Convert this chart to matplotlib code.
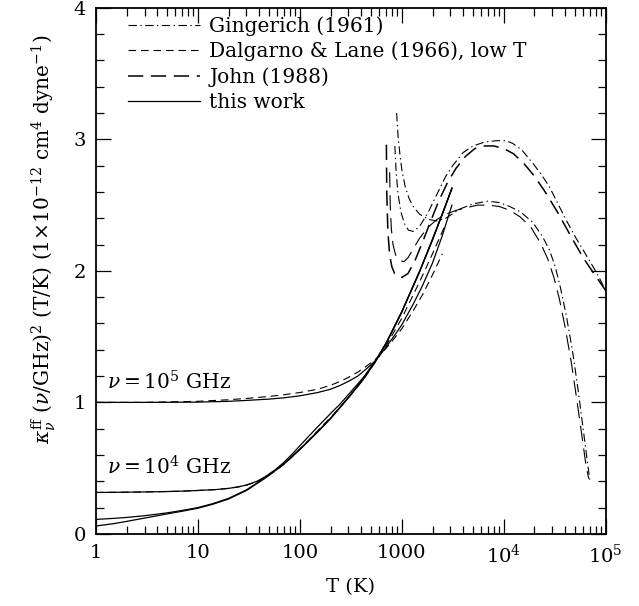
import matplotlib
matplotlib.use("Agg")
import matplotlib.pyplot as plt
from matplotlib.ticker import FixedLocator, FixedFormatter, MultipleLocator, LogLocator

# "this work" (solid), four frequencies
T_s1 = [1, 3, 10, 20, 30, 50, 70, 100, 150, 200, 250, 300, 370, 450, 556, 700, 850, 1000, 1300,
        1600, 2000, 2500, 3100]
k_s1 = [1.00, 1.00, 1.002, 1.008, 1.015, 1.025, 1.035, 1.05, 1.075, 1.10, 1.13, 1.16, 1.20, 1.255,
        1.32, 1.42, 1.51, 1.59, 1.75, 1.89, 2.06, 2.27, 2.50]
T_s2 = [1, 2, 3, 5, 7, 10, 15, 20, 25, 30, 38, 46, 58, 70, 85, 100, 125, 150, 200, 250, 300, 420,
        556, 700, 1000, 1500, 2000, 2600, 3100]
k_s2 = [0.315, 0.317, 0.319, 0.322, 0.325, 0.33, 0.337, 0.346, 0.358, 0.372, 0.40, 0.436, 0.49,
        0.545, 0.61, 0.67, 0.75, 0.815, 0.915, 0.99, 1.06, 1.19, 1.32, 1.45, 1.69, 2.00, 2.24,
        2.47, 2.63]
T_s3 = [1, 1.5, 2, 3, 4, 5, 7, 10, 14, 20, 30, 46, 70, 100, 150, 200, 300, 420, 556, 700, 1000,
        1500, 2000, 2600, 3100]
k_s3 = [0.11, 0.118, 0.125, 0.138, 0.15, 0.16, 0.178, 0.20, 0.23, 0.27, 0.335, 0.43, 0.535, 0.645,
        0.78, 0.88, 1.04, 1.18, 1.32, 1.45, 1.69, 2.00, 2.24, 2.47, 2.63]
k_s4 = [0.06, 0.078, 0.095, 0.12, 0.138, 0.152, 0.172, 0.195, 0.225, 0.265, 0.33, 0.425, 0.53,
        0.64, 0.775, 0.875, 1.035, 1.175, 1.315, 1.445, 1.685, 1.995, 2.235, 2.465, 2.625]

# Dalgarno & Lane (1966), low T (short dash)
T_d1 = [1, 3, 10, 20, 30, 50, 70, 100, 150, 200, 250, 300, 370, 450, 556, 700, 850, 1000, 1300,
        1600, 2000, 2500]
k_d1 = [1.00, 1.00, 1.008, 1.02, 1.03, 1.045, 1.058, 1.075, 1.10, 1.13, 1.16, 1.19, 1.23, 1.275,
        1.33, 1.41, 1.49, 1.56, 1.70, 1.82, 1.97, 2.13]
T_d2 = [1, 2, 3, 5, 7, 10, 15, 20, 25, 30, 38, 46, 58, 70, 85, 100, 125, 150, 200, 250, 300, 420,
        556, 700, 1000, 1500, 2000, 2600]
k_d2 = [0.315, 0.317, 0.319, 0.322, 0.325, 0.33, 0.337, 0.346, 0.357, 0.37, 0.397, 0.43, 0.48,
        0.53, 0.59, 0.645, 0.72, 0.785, 0.885, 0.965, 1.035, 1.175, 1.31, 1.43, 1.64, 1.92, 2.13,
        2.33]

# Gingerich (1961) (dash-dot)
T_g1 = [889, 920, 960, 1000, 1080, 1180, 1290, 1500, 1870, 2200, 2700, 3700, 5000, 6970, 9000,
        11400, 14500, 19200, 24000, 28000, 32000, 36000, 41000, 47000, 53000, 60000, 66000, 70000]
k_g1 = [3.20, 3.02, 2.88, 2.77, 2.64, 2.55, 2.49, 2.43, 2.39, 2.38, 2.40, 2.47, 2.51, 2.53, 2.52,
        2.49, 2.45, 2.37, 2.26, 2.16, 2.03, 1.87, 1.66, 1.40, 1.12, 0.80, 0.55, 0.40]
T_g2 = [855, 880, 920, 980, 1060, 1160, 1300, 1500, 1800, 2200, 2700, 3150, 4000, 5000, 6500,
        8500, 10500, 12200, 15000, 19200, 23000, 28000, 35000, 42000, 51000, 62000, 74000, 86000,
        100000]
k_g2 = [2.95, 2.75, 2.58, 2.45, 2.36, 2.31, 2.30, 2.34, 2.44, 2.58, 2.72, 2.80, 2.90, 2.95, 2.98,
        2.99, 2.99, 2.97, 2.92, 2.82, 2.74, 2.64, 2.49, 2.37, 2.25, 2.14, 2.04, 1.95, 1.85]

# John (1988) (long dash)
T_j1 = [706, 712, 730, 760, 800, 850, 900, 1000, 1150, 1350, 1600, 1900, 2300, 2800, 3400, 4200,
        5200, 6500, 8000, 10000, 12500, 16000, 20000, 26000, 34000, 45000, 60000, 78000, 100000]
k_j1 = [2.96, 2.60, 2.30, 2.12, 2.03, 1.98, 1.96, 1.95, 1.98, 2.08, 2.22, 2.37, 2.53, 2.67, 2.78,
        2.87, 2.93, 2.95, 2.95, 2.93, 2.89, 2.81, 2.72, 2.59, 2.44, 2.27, 2.10, 1.97, 1.85]
T_j2 = [760, 770, 790, 820, 870, 950, 1050, 1150, 1300, 1500, 1800, 2200, 2700, 3400, 4300, 5500,
        7000, 9000, 11500, 14500, 18500, 23000, 27000, 31000, 35000, 40000, 46000, 52000, 58000,
        64000, 68000]
k_j2 = [2.75, 2.50, 2.32, 2.20, 2.12, 2.08, 2.07, 2.10, 2.17, 2.25, 2.33, 2.39, 2.43, 2.46, 2.48,
        2.50, 2.50, 2.49, 2.46, 2.41, 2.33, 2.21, 2.09, 1.95, 1.79, 1.57, 1.30, 1.02, 0.76, 0.52,
        0.42]

xticks = [1, 10, 100, 1000, 1e4, 1e5]
xtick_labels = ["1", "10", "100", "1000", "$10^4$", "$10^5$"]

plt.rcParams["font.family"] = "DejaVu Serif"
plt.rcParams["mathtext.fontset"] = "dejavuserif"
plt.rcParams["lines.scale_dashes"] = False

DASHDOT = (0, (6, 2.5, 1, 2.5))
SHORT = (0, (5.5, 3.5))
LONG = (0, (11, 5.5))


def main():
    fig = plt.figure(figsize=(6.39, 6.06), dpi=100)
    ax = fig.add_axes([0.150, 0.119, 0.798, 0.868])

    ax.plot(T_g1, k_g1, color="black", lw=0.8, ls=DASHDOT, label="Gingerich (1961)")
    ax.plot(T_g2, k_g2, color="black", lw=0.8, ls=DASHDOT)
    ax.plot(T_d1, k_d1, color="black", lw=0.8, ls=SHORT, label="Dalgarno & Lane (1966), low T")
    ax.plot(T_d2, k_d2, color="black", lw=0.8, ls=SHORT)
    ax.plot(T_j1, k_j1, color="black", lw=1.1, ls=LONG, label="John (1988)")
    ax.plot(T_j2, k_j2, color="black", lw=0.8, ls=LONG)
    ax.plot(T_s1, k_s1, color="black", lw=0.9, label="this work")
    ax.plot(T_s2, k_s2, color="black", lw=0.9)
    ax.plot(T_s3, k_s3, color="black", lw=0.9)
    ax.plot(T_s3, k_s4, color="black", lw=0.9)

    ax.set_xscale("log")
    ax.set_xlim(1, 1e5)
    ax.set_ylim(0, 4)
    ax.xaxis.set_major_locator(FixedLocator(xticks))
    ax.xaxis.set_major_formatter(FixedFormatter(xtick_labels))
    ax.xaxis.set_minor_locator(LogLocator(base=10, subs=range(2, 10)))
    ax.yaxis.set_major_locator(MultipleLocator(1))
    ax.yaxis.set_minor_locator(MultipleLocator(0.2))
    ax.tick_params(which="both", direction="in", top=True, right=True, labelsize=14,
                   width=0.9, pad=7)
    ax.tick_params(which="major", length=11)
    ax.tick_params(which="minor", length=5.5)
    for s in ax.spines.values():
        s.set_linewidth(1.3)

    ax.set_xlabel("T (K)", fontsize=14, labelpad=8)
    ax.set_ylabel(r"$\kappa_\nu^{\rm ff}$ ($\nu$/GHz)$^2$ (T/K) (1$\times$10$^{-12}$ cm$^4$ dyne$^{-1}$)",
                  fontsize=14.5)
    ax.yaxis.set_label_coords(-0.075, 0.56)

    ax.text(1.3, 1.10, r"$\nu = 10^5$ GHz", fontsize=14.5)
    ax.text(1.3, 0.45, r"$\nu = 10^4$ GHz", fontsize=14.5)

    ax.legend(loc="upper left", bbox_to_anchor=(0.047, 1.0), borderaxespad=0, frameon=False,
              fontsize=14.5, handlelength=3.6, labelspacing=0.3, handletextpad=0.45)

    fig.savefig("out.png", dpi=100)


if __name__ == "__main__":
    main()
